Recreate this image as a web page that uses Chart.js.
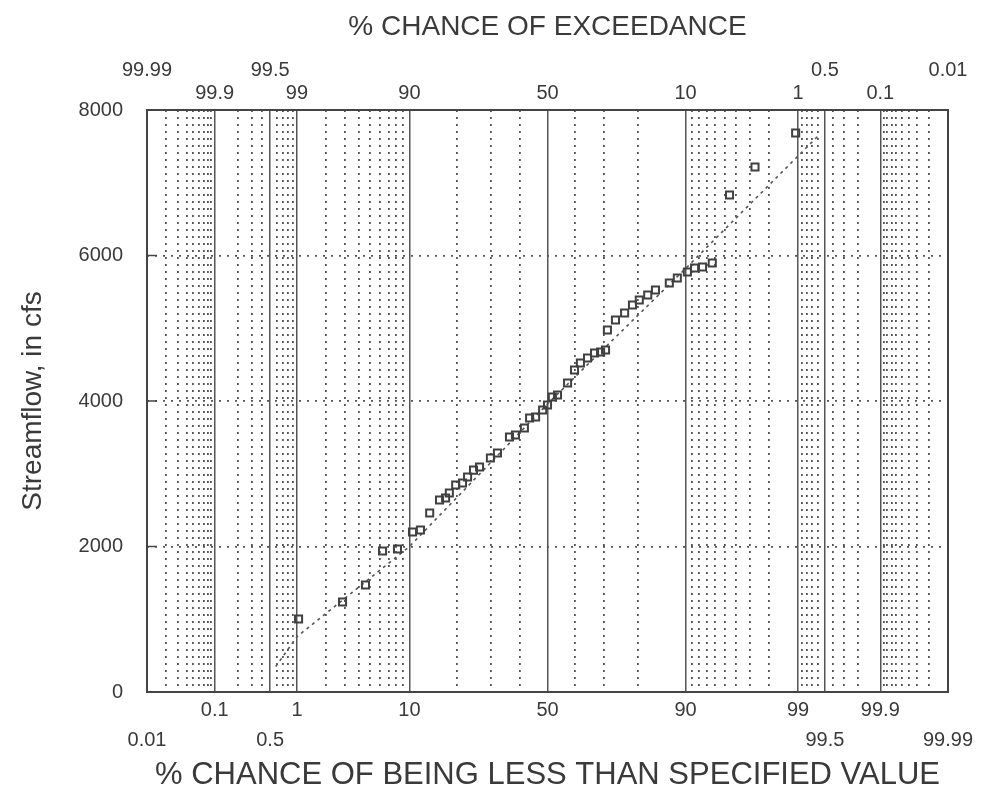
<!DOCTYPE html>
<html>
<head>
<meta charset="utf-8">
<title>Streamflow probability plot</title>
<script src="https://cdn.jsdelivr.net/npm/chart.js@4.4.1/dist/chart.umd.min.js"></script>
<style>
  html, body { margin: 0; padding: 0; background: #ffffff; }
  #wrap { width: 994px; height: 794px; position: relative; }
</style>
</head>
<body>
<div id="wrap"><canvas id="probChart"></canvas></div>
<script>
// --- data ---
// % chance of being less than (plotting position) for each annual value
const pctLess = [1.04, 2.85, 4.55, 6.28, 8.18, 10.5, 11.9, 13.7, 15.8, 17.2,
    18.1, 19.7, 21.5, 22.9, 24.6, 26.4, 29.8, 32.1, 36.2, 38.3,
    41.5, 43.4, 45.6, 48.2, 50.0, 51.8, 53.7, 57.4, 59.9, 62.0,
    64.5, 66.9, 68.9, 70.5, 71.1, 73.6, 76.3, 78.5, 80.3, 82.4,
    84.2, 87.1, 88.6, 90.3, 91.4, 92.5, 93.7, 95.45, 97.3, 98.94];
// streamflow, in cfs
const flows = [1003, 1237, 1471, 1938, 1965, 2200, 2227, 2460, 2640, 2667,
    2735, 2845, 2873, 2955, 3050, 3093, 3216, 3285, 3505, 3533,
    3629, 3766, 3780, 3876, 3945, 4055, 4082, 4247, 4426, 4522,
    4591, 4660, 4674, 4701, 4976, 5113, 5210, 5320, 5388, 5457,
    5526, 5622, 5691, 5773, 5828, 5842, 5897, 6832, 7216, 7684];
// fitted frequency curve
const fitPct = [0.58, 1, 10, 50, 90, 99.42];
const fitFlow = [350, 760, 2000, 3960, 5820, 7660];

// tick labels / grid positions
const bottomTicks = [0.01, 0.1, 0.5, 1, 10, 50, 90, 99, 99.5, 99.9, 99.99];
const secondRow = [0.01, 0.5, 99.5, 99.99];   // labels on the outer row
const minorLines = [0.02, 0.03, 0.04, 0.05, 0.06, 0.07, 0.08, 0.09,
    0.2, 0.3, 0.4, 0.6, 0.7, 0.8, 0.9,
    2, 3, 4, 5, 6, 7, 8, 9, 20, 30, 40, 60, 70, 80,
    91, 92, 93, 94, 95, 96, 97, 98, 99.1, 99.2, 99.3, 99.4,
    99.6, 99.7, 99.8, 99.91, 99.92, 99.93, 99.94, 99.95, 99.96, 99.97, 99.98];
const yTicks = [0, 2000, 4000, 6000, 8000];

// inverse normal cdf (Acklam)
function probit(p) {
    const a = [-39.69683028665376, 220.9460984245205, -275.9285104469687, 138.3577518672690, -30.66479806614716, 2.506628277459239];
    const b = [-54.47609879822406, 161.5858368580409, -155.6989798598866, 66.80131188771972, -13.28068155288572];
    const c = [-0.007784894002430293, -0.3223964580411365, -2.400758277161838, -2.549732539343734, 4.374664141464968, 2.938163982698783];
    const d = [0.007784695709041462, 0.3224671290700398, 2.445134137142996, 3.754408661907416];
    const lo = 0.02425;
    if (p < lo) {
        const q = Math.sqrt(-2 * Math.log(p));
        return (((((c[0]*q+c[1])*q+c[2])*q+c[3])*q+c[4])*q+c[5]) / ((((d[0]*q+d[1])*q+d[2])*q+d[3])*q+1);
    }
    if (p > 1 - lo) {
        const q = Math.sqrt(-2 * Math.log(1 - p));
        return -(((((c[0]*q+c[1])*q+c[2])*q+c[3])*q+c[4])*q+c[5]) / ((((d[0]*q+d[1])*q+d[2])*q+d[3])*q+1);
    }
    const q = p - 0.5, r = q * q;
    return (((((a[0]*r+a[1])*r+a[2])*r+a[3])*r+a[4])*r+a[5])*q / (((((b[0]*r+b[1])*r+b[2])*r+b[3])*r+b[4])*r+1);
}

function normCdf(z) {
    // Abramowitz-Stegun erf approximation
    const t = 1 / (1 + 0.3275911 * Math.abs(z) / Math.SQRT2);
    const y = 1 - (((((1.061405429*t - 1.453152027)*t) + 1.421413741)*t - 0.284496736)*t + 0.254829592)*t * Math.exp(-z*z/2);
    return z >= 0 ? 0.5 * (1 + y) : 0.5 * (1 - y);
}

// normal probability axis (values in percent)
class ProbabilityScale extends Chart.Scale {
    static id = "probability";
    static defaults = {};
    determineDataLimits() {
        this.min = this.options.min;
        this.max = this.options.max;
    }
    buildTicks() {
        return [];
    }
    getLabelForValue(v) {
        return String(v);
    }
    configure() {
        super.configure();
        this._zStart = probit(this.min / 100);
        this._zRange = probit(this.max / 100) - this._zStart;
    }
    getPixelForValue(v) {
        return this.getPixelForDecimal((probit(v / 100) - this._zStart) / this._zRange);
    }
    getValueForPixel(px) {
        return 100 * normCdf(this._zStart + this.getDecimalForPixel(px) * this._zRange);
    }
}
Chart.register(ProbabilityScale);

const textColor = "#3a3a3a";
const fontFamily = "'Liberation Sans', Arial, sans-serif";
const tickFont = { family: fontFamily, size: 20 };

function setTicks(list) {
    return (scale) => { scale.ticks = list.map(v => ({ value: v })); };
}

// frame round the plot and short inward ticks on the left
const framePlugin = {
    id: "frame",
    afterDatasetsDraw(chart) {
        const { ctx, chartArea } = chart;
        const yScale = chart.scales.y;
        ctx.save();
        ctx.strokeStyle = "#444";
        ctx.lineWidth = 2;
        ctx.strokeRect(chartArea.left, chartArea.top, chartArea.right - chartArea.left, chartArea.bottom - chartArea.top);
        ctx.lineWidth = 1.5;
        [2000, 4000, 6000].forEach(v => {
            const py = yScale.getPixelForValue(v);
            ctx.beginPath();
            ctx.moveTo(chartArea.left, py);
            ctx.lineTo(chartArea.left + 10, py);
            ctx.stroke();
        });
        ctx.restore();
    }
};

const ctx = document.getElementById("probChart").getContext("2d");
new Chart(ctx, {
    type: "scatter",
    data: {
        datasets: [
            {
                label: "Annual peaks",
                data: pctLess.map((p, i) => ({ x: p, y: flows[i] })),
                xAxisID: "x",
                yAxisID: "y",
                pointStyle: "rect",
                pointRadius: 5,
                borderColor: "#404040",
                backgroundColor: "rgba(0,0,0,0)",
                borderWidth: 2,
                order: 1
            },
            {
                label: "Fitted curve",
                data: fitPct.map((p, i) => ({ x: p, y: fitFlow[i] })),
                xAxisID: "x",
                yAxisID: "y",
                showLine: true,
                pointRadius: 0,
                borderColor: "#555",
                borderWidth: 1.6,
                borderDash: [3, 4],
                tension: 0,
                order: 2
            }
        ]
    },
    options: {
        responsive: true,
        maintainAspectRatio: false,
        animation: false,
        layout: { padding: { left: 0, right: 46, top: 0, bottom: 0 } },
        plugins: {
            legend: { display: false },
            tooltip: { enabled: false }
        },
        scales: {
            x: {
                type: "probability",
                axis: "x",
                position: "bottom",
                min: 0.01,
                max: 99.99,
                afterBuildTicks: setTicks(bottomTicks),
                afterFit: (s) => { s.height = 102; },
                border: { display: false },
                grid: { color: "#555", lineWidth: 1.5, drawTicks: false },
                ticks: {
                    autoSkip: false,
                    maxRotation: 0,
                    minRotation: 0,
                    padding: 3,
                    color: textColor,
                    font: Object.assign({ lineHeight: 1.5 }, tickFont),
                    callback: (v) => secondRow.includes(v) ? ["", String(v)] : String(v)
                },
                title: {
                    display: true,
                    text: "% CHANCE OF BEING LESS THAN SPECIFIED VALUE",
                    color: textColor,
                    font: { family: fontFamily, size: 31 },
                    padding: { top: 0, bottom: 0 }
                }
            },
            xMinor: {
                type: "probability",
                axis: "x",
                position: "bottom",
                min: 0.01,
                max: 99.99,
                afterBuildTicks: setTicks(minorLines),
                afterFit: (s) => { s.height = 0; },
                border: { display: false, dash: [2, 5] },
                grid: { color: "#555", lineWidth: 1.8, drawTicks: false },
                ticks: { display: false }
            },
            xTop: {
                type: "probability",
                axis: "x",
                position: "top",
                min: 0.01,
                max: 99.99,
                afterBuildTicks: setTicks(bottomTicks),
                afterFit: (s) => { s.height = 110; },
                border: { display: false },
                grid: { display: false, drawTicks: false },
                ticks: {
                    autoSkip: false,
                    maxRotation: 0,
                    minRotation: 0,
                    padding: 5.5,
                    color: textColor,
                    font: Object.assign({ lineHeight: 1.15 }, tickFont),
                    callback: (v) => {
                        const label = String(+(100 - v).toFixed(2));
                        return secondRow.includes(v) ? [label, ""] : label;
                    }
                },
                title: {
                    display: true,
                    text: "% CHANCE OF EXCEEDANCE",
                    color: textColor,
                    font: { family: fontFamily, size: 28 },
                    padding: { top: 10, bottom: 0 }
                }
            },
            y: {
                type: "linear",
                position: "left",
                min: 0,
                max: 8000,
                afterBuildTicks: setTicks(yTicks),
                afterFit: (s) => { s.width = 147; },
                border: { display: false, dash: [2, 6] },
                grid: { color: "#555", lineWidth: 1.8, drawTicks: false },
                ticks: {
                    padding: 24,
                    color: textColor,
                    font: tickFont,
                    callback: (v) => String(v)
                },
                title: {
                    display: true,
                    text: "Streamflow, in cfs",
                    color: textColor,
                    font: { family: fontFamily, size: 28 },
                    padding: { top: 16, bottom: 0 }
                }
            }
        }
    },
    plugins: [framePlugin]
});
</script>
</body>
</html>
